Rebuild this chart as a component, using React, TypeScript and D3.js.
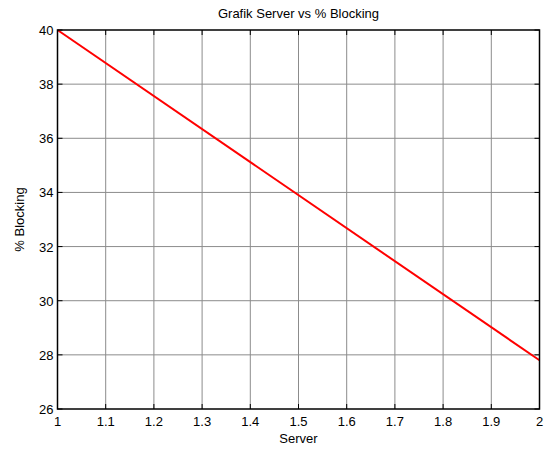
import React from "react";
import * as d3 from "d3";

const serverValues = [1, 2];
const blockingValues = [40, 27.8];
const xTicks = [1, 1.1, 1.2, 1.3, 1.4, 1.5, 1.6, 1.7, 1.8, 1.9, 2];
const yTicks = [26, 28, 30, 32, 34, 36, 38, 40];

export default function App() {
  const W = 545, H = 450;
  const L = 57.5, R = 539.5, T = 30, B = 409;
  const x = d3.scaleLinear().domain([1, 2]).range([L, R]);
  const y = d3.scaleLinear().domain([26, 40]).range([B, T]);
  const line = d3.line<number>().x((_, i) => x(serverValues[i])).y((d) => y(d));
  const font = "Arial, 'Liberation Sans', sans-serif";
  const tl = 5;
  const fs = 13;
  return (
    <svg width={W} height={H} style={{ position: "absolute", left: 0, top: 0 }}>
      <rect width={W} height={H} fill="#fff" />
      {xTicks.slice(1, -1).map((t) => (
        <line key={"gx" + t} x1={x(t)} x2={x(t)} y1={T} y2={B} stroke="#8c8c8c" strokeWidth={1} />
      ))}
      {yTicks.slice(1, -1).map((t) => (
        <line key={"gy" + t} x1={L} x2={R} y1={y(t)} y2={y(t)} stroke="#8c8c8c" strokeWidth={1} />
      ))}
      {xTicks.map((t) => (
        <g key={"tx" + t}>
          <line x1={x(t)} x2={x(t)} y1={B} y2={B - tl} stroke="#000" />
          <line x1={x(t)} x2={x(t)} y1={T} y2={T + tl} stroke="#000" />
          <text x={x(t)} y={B + 17} textAnchor="middle" fontFamily={font} fontSize={fs} fill="#000">
            {String(t)}
          </text>
        </g>
      ))}
      {yTicks.map((t) => (
        <g key={"ty" + t}>
          <line x1={L} x2={L + tl} y1={y(t)} y2={y(t)} stroke="#000" />
          <line x1={R} x2={R - tl} y1={y(t)} y2={y(t)} stroke="#000" />
          <text x={L - 4} y={y(t) + 5} textAnchor="end" fontFamily={font} fontSize={fs} fill="#000">
            {String(t)}
          </text>
        </g>
      ))}
      <path d={line(blockingValues) || ""} fill="none" stroke="#ff0000" strokeWidth={2} />
      <rect x={L} y={T} width={R - L} height={B - T} fill="none" stroke="#000" strokeWidth={1.5} />
      <text x={(L + R) / 2} y={18} textAnchor="middle" fontFamily={font} fontSize={fs} fill="#000">
        Grafik Server vs % Blocking
      </text>
      <text x={(L + R) / 2} y={443} textAnchor="middle" fontFamily={font} fontSize={fs} fill="#000">
        Server
      </text>
      <text
        transform={`translate(24, ${(T + B) / 2}) rotate(-90)`}
        textAnchor="middle"
        fontFamily={font}
        fontSize={fs}
        fill="#000"
      >
        % Blocking
      </text>
    </svg>
  );
}
